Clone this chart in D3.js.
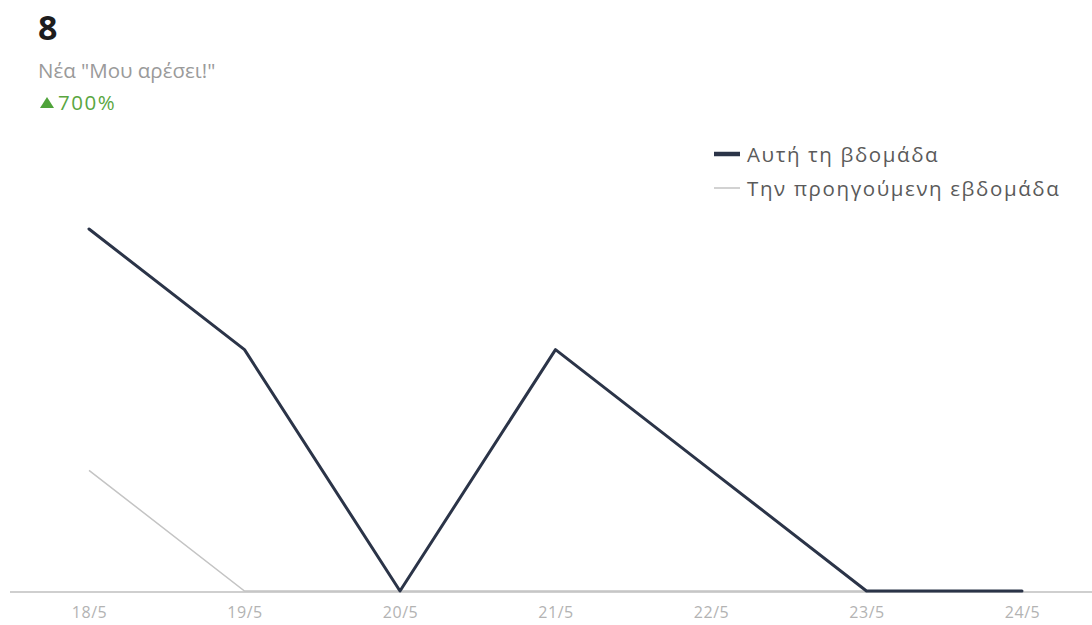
<!DOCTYPE html>
<html>
<head>
<meta charset="utf-8">
<script src="https://cdn.jsdelivr.net/npm/d3@7"></script>
<style>
  html, body { margin: 0; padding: 0; background: #fff; }
  svg { display: block; font-family: "Open Sans", "Noto Sans", Arial, sans-serif; }
</style>
</head>
<body>
<svg id="chart" width="1092" height="625"></svg>
<script>
// Daily new page likes, this week vs. last week
const days = ["18/5", "19/5", "20/5", "21/5", "22/5", "23/5", "24/5"];
const thisWeek = [3, 2, 0, 2, 1, 0, 0];
const lastWeek = [1, 0, 0, 0, 0, 0, 0];
const seriesNames = ["Αυτή τη βδομάδα", "Την προηγούμενη εβδομάδα"];
const totalLabel = "8";
const metricLabel = "Νέα \"Μου αρέσει!\"";
const changeLabel = "700%";

const svg = d3.select("#chart");

const x = d3.scalePoint().domain(days).range([89, 1022]);
const y = d3.scaleLinear().domain([0, 3]).range([591, 229]);

// Header: total, metric name and week-over-week change
svg.append("text").attr("x", 38).attr("y", 40)
  .attr("font-size", 34).attr("font-weight", "bold").attr("fill", "#1d1d1d")
  .text(totalLabel);
svg.append("text").attr("x", 38).attr("y", 78)
  .attr("font-size", 20.5).attr("fill", "#9a9a9a")
  .text(metricLabel);
svg.append("path")
  .attr("d", "M40,108 L47,97 L54,108 Z")
  .attr("fill", "#4fa33a");
svg.append("text").attr("x", 58).attr("y", 110)
  .attr("font-size", 20.5).attr("letter-spacing", 1.5).attr("fill", "#5aa63f")
  .text(changeLabel);

// Baseline axis
const axis = d3.axisBottom(x).tickSize(0).tickPadding(15);
const gAxis = svg.append("g").attr("transform", "translate(0,592)").call(axis);
gAxis.select(".domain").remove();
gAxis.append("line").attr("x1", 10).attr("x2", 1092).attr("y1", 0).attr("y2", 0)
  .attr("stroke", "#cfcfcf").attr("stroke-width", 2);
gAxis.selectAll(".tick text")
  .attr("font-size", 16).attr("letter-spacing", 0.6).attr("fill", "#b3b3b3")
  .attr("font-family", "\"Open Sans\", \"Noto Sans\", Arial, sans-serif");

const line = d3.line().x((d, i) => x(days[i])).y(d => y(d));

// Last week (thin gray)
svg.append("path").datum(lastWeek)
  .attr("d", line).attr("fill", "none")
  .attr("stroke", "#c4c4c4").attr("stroke-width", 1.5);

// This week (dark navy)
svg.append("path").datum(thisWeek)
  .attr("d", line).attr("fill", "none")
  .attr("stroke", "#2b3448").attr("stroke-width", 3)
  .attr("stroke-linejoin", "round").attr("stroke-linecap", "round");

// Legend
const legend = svg.append("g");
legend.append("line").attr("x1", 714).attr("x2", 740).attr("y1", 154).attr("y2", 154)
  .attr("stroke", "#2b3448").attr("stroke-width", 4.5);
legend.append("text").attr("x", 747).attr("y", 162)
  .attr("font-size", 20.5).attr("letter-spacing", 1.6).attr("fill", "#5a5a5a")
  .text(seriesNames[0]);
legend.append("line").attr("x1", 714).attr("x2", 740).attr("y1", 188).attr("y2", 188)
  .attr("stroke", "#b5b5b5").attr("stroke-width", 1.2);
legend.append("text").attr("x", 747).attr("y", 196)
  .attr("font-size", 20.5).attr("letter-spacing", 1.6).attr("fill", "#5a5a5a")
  .text(seriesNames[1]);
</script>
</body>
</html>
